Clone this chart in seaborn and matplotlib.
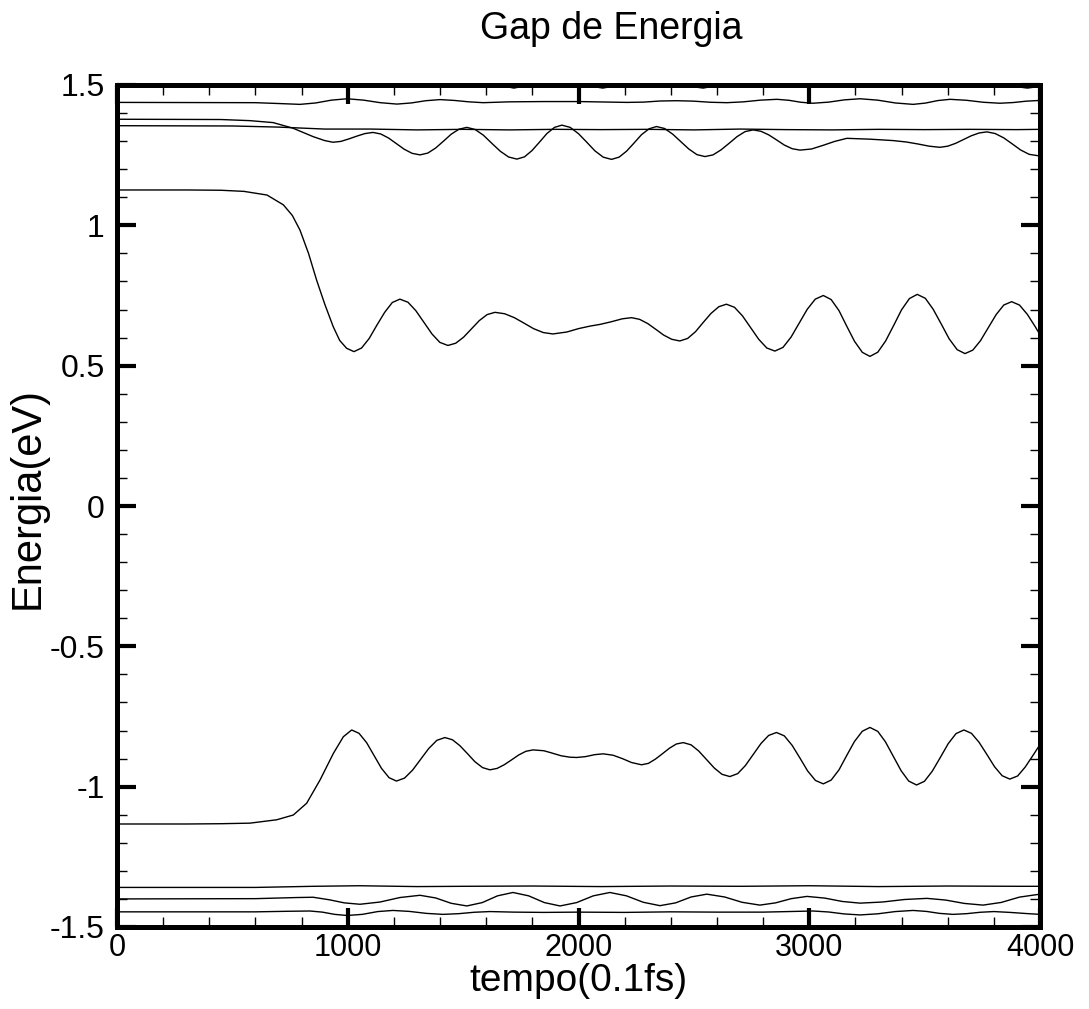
import numpy as np
import pandas as pd
import matplotlib
matplotlib.use('Agg')
import matplotlib.pyplot as plt
from matplotlib.ticker import MultipleLocator, FuncFormatter
import seaborn as sns

# -------------------------------------------------------
# DATA
# -------------------------------------------------------
# upper band, near 1.5 (mostly clipped by the frame)
t_top0 = [0, 1500, 1620, 1720, 1820, 1950, 2105, 2250, 2400, 2540, 2680, 3000, 3500, 3800, 3945, 4000]
e_top0 = [1.52, 1.515, 1.505, 1.489, 1.505, 1.51, 1.489, 1.51, 1.505, 1.489, 1.51, 1.52, 1.515, 1.505, 1.489, 1.495]

t_top1 = [0, 600, 700, 793, 861, 929, 997, 1069, 1141, 1213, 1275, 1338, 1400, 1462, 1525, 1587, 1700,
          1850, 2000, 2210, 2282, 2354, 2426, 2498, 2571, 2643, 2715, 2788, 2860, 2912, 2964, 3016, 3084,
          3152, 3220, 3297, 3373, 3450, 3503, 3557, 3610, 3682, 3754, 3826, 3884, 3942, 4000]
e_top1 = [1.438, 1.437, 1.434, 1.431, 1.436, 1.446, 1.451, 1.446, 1.437, 1.432, 1.436, 1.444, 1.448, 1.445,
          1.440, 1.437, 1.440, 1.441, 1.441, 1.438, 1.439, 1.443, 1.444, 1.4425, 1.4385, 1.437, 1.440, 1.446,
          1.449, 1.4455, 1.4385, 1.435, 1.439, 1.447, 1.451, 1.446, 1.436, 1.431, 1.4355, 1.4445, 1.449,
          1.4455, 1.4385, 1.435, 1.4375, 1.4425, 1.445]

t_top2 = [0, 450, 576, 677, 763, 850, 900, 936, 970, 1005, 1040, 1075, 1109, 1143, 1177, 1211, 1245, 1279,
          1313, 1347, 1381, 1415, 1448, 1482, 1516, 1552, 1588, 1624, 1661, 1697, 1733, 1766, 1798, 1831,
          1863, 1896, 1928, 1964, 2000, 2036, 2071, 2107, 2143, 2176, 2208, 2241, 2273, 2306, 2338, 2373,
          2408, 2443, 2478, 2513, 2548, 2583, 2618, 2653, 2687, 2722, 2757, 2791, 2825, 2859, 2892, 2926,
          2960, 3010, 3060, 3110, 3163, 3263, 3363, 3420, 3470, 3520, 3566, 3600, 3634, 3668, 3702, 3736,
          3770, 3806, 3843, 3880, 3916, 3953, 4000]
e_top2 = [1.378, 1.377, 1.373, 1.366, 1.346, 1.316, 1.302, 1.296, 1.299, 1.308, 1.318, 1.327, 1.331,
          1.3255, 1.311, 1.291, 1.271, 1.2565, 1.251, 1.2575, 1.2755, 1.300, 1.3245, 1.3425, 1.349, 1.3415,
          1.321, 1.2925, 1.264, 1.2435, 1.236, 1.244, 1.266, 1.2965, 1.327, 1.349, 1.357, 1.349, 1.3265,
          1.296, 1.2655, 1.243, 1.235, 1.243, 1.264, 1.2935, 1.323, 1.344, 1.352, 1.345, 1.325, 1.2985,
          1.272, 1.252, 1.245, 1.251, 1.269, 1.2925, 1.316, 1.334, 1.340, 1.335, 1.322, 1.304, 1.286, 1.273,
          1.268, 1.272, 1.285, 1.299, 1.310, 1.307, 1.302, 1.297, 1.290, 1.282, 1.278, 1.282, 1.292, 1.3055,
          1.319, 1.329, 1.333, 1.327, 1.3115, 1.290, 1.2685, 1.253, 1.247]

t_top3 = [0, 500, 700, 900, 1100, 1300, 1500, 1700, 1900, 2100, 2300, 2500, 2700, 2900, 3100, 3300, 3500, 3700, 3900, 4000]
e_top3 = [1.355, 1.354, 1.350, 1.343, 1.343, 1.340, 1.342, 1.340, 1.342, 1.341, 1.342, 1.340, 1.343, 1.341,
          1.340, 1.342, 1.341, 1.342, 1.341, 1.342]

# the two gap levels
t_lumo = [0, 300, 450, 550, 650, 721, 760, 793, 830, 865, 900, 937, 965, 995, 1027, 1060, 1093, 1126, 1160,
          1193, 1226, 1261, 1295, 1330, 1365, 1399, 1434, 1468, 1502, 1536, 1570, 1604, 1638, 1680, 1722,
          1764, 1805, 1847, 1889, 1950, 2000, 2050, 2093, 2140, 2190, 2230, 2265, 2300, 2335, 2369, 2404,
          2439, 2473, 2507, 2540, 2574, 2608, 2641, 2676, 2711, 2746, 2781, 2816, 2851, 2886, 2921, 2956,
          2991, 3026, 3061, 3095, 3129, 3162, 3196, 3230, 3263, 3297, 3331, 3366, 3400, 3434, 3468, 3503,
          3537, 3572, 3606, 3641, 3675, 3709, 3742, 3776, 3810, 3843, 3877, 3911, 3945, 3980, 4000]
e_lumo = [1.126, 1.126, 1.125, 1.121, 1.108, 1.073, 1.035, 0.983, 0.90, 0.805, 0.72, 0.639, 0.59, 0.562,
          0.550, 0.563, 0.597, 0.644, 0.690, 0.725, 0.737, 0.726, 0.696, 0.6545, 0.613, 0.583, 0.572, 0.580,
          0.6015, 0.631, 0.6605, 0.682, 0.690, 0.685, 0.671, 0.6515, 0.632, 0.618, 0.613, 0.620, 0.632,
          0.641, 0.647, 0.656, 0.667, 0.671, 0.665, 0.650, 0.6295, 0.609, 0.594, 0.588, 0.597, 0.621, 0.6535,
          0.686, 0.710, 0.719, 0.708, 0.677, 0.6355, 0.594, 0.563, 0.552, 0.565, 0.6015, 0.651, 0.7005, 0.737,
          0.750, 0.7355, 0.696, 0.6415, 0.587, 0.5475, 0.533, 0.548, 0.588, 0.6435, 0.699, 0.739, 0.754,
          0.740, 0.701, 0.6485, 0.596, 0.557, 0.543, 0.5555, 0.589, 0.6355, 0.682, 0.716, 0.728, 0.716,
          0.683, 0.638, 0.61]

t_homo = [0, 300, 450, 576, 692, 764, 822, 880, 938, 981, 1017, 1049, 1082, 1114, 1146, 1179, 1211, 1246,
          1281, 1316, 1351, 1386, 1421, 1454, 1486, 1519, 1551, 1584, 1616, 1647, 1678, 1710, 1741, 1772,
          1803, 1850, 1880, 1925, 1963, 1992, 2030, 2070, 2107, 2150, 2190, 2230, 2273, 2303, 2333, 2364,
          2394, 2424, 2454, 2488, 2521, 2555, 2589, 2622, 2656, 2690, 2723, 2757, 2791, 2824, 2858, 2892,
          2926, 2960, 2993, 3027, 3061, 3095, 3129, 3162, 3196, 3230, 3263, 3297, 3330, 3364, 3398, 3431,
          3465, 3499, 3533, 3568, 3602, 3636, 3670, 3703, 3736, 3770, 3803, 3836, 3869, 3903, 3936, 3970, 4000]
e_homo = [-1.133, -1.133, -1.132, -1.130, -1.118, -1.101, -1.059, -0.976, -0.881, -0.822, -0.798, -0.810,
          -0.8435, -0.889, -0.9345, -0.968, -0.980, -0.9695, -0.941, -0.9025, -0.864, -0.835, -0.825, -0.833,
          -0.854, -0.8825, -0.911, -0.932, -0.940, -0.935, -0.922, -0.9045, -0.887, -0.874, -0.869, -0.872,
          -0.879, -0.890, -0.895, -0.896, -0.893, -0.886, -0.883, -0.888, -0.900, -0.914, -0.922, -0.917,
          -0.902, -0.8825, -0.863, -0.848, -0.843, -0.851, -0.873, -0.9035, -0.934, -0.956, -0.964, -0.9535,
          -0.925, -0.8855, -0.846, -0.8175, -0.807, -0.819, -0.853, -0.8985, -0.944, -0.978, -0.990, -0.9765,
          -0.940, -0.8895, -0.839, -0.8025, -0.789, -0.803, -0.840, -0.8915, -0.943, -0.980, -0.994, -0.981,
          -0.945, -0.896, -0.847, -0.811, -0.798, -0.810, -0.842, -0.8855, -0.929, -0.961, -0.973, -0.962,
          -0.930, -0.888, -0.85]

# lower band
t_bot1 = [0, 600, 850, 1050, 1300, 1500, 1800, 2100, 2400, 2700, 3000, 3300, 3600, 3900, 4000]
e_bot1 = [-1.359, -1.359, -1.355, -1.353, -1.356, -1.355, -1.354, -1.356, -1.354, -1.355, -1.353, -1.356,
          -1.354, -1.355, -1.355]

t_bot2 = [0, 600, 780, 850, 920, 985, 1053, 1140, 1226, 1313, 1381, 1448, 1516, 1583, 1649, 1716, 1784,
          1852, 1920, 1992, 2064, 2136, 2208, 2281, 2353, 2421, 2488, 2556, 2633, 2709, 2786, 2854, 2922,
          2990, 3067, 3143, 3220, 3317, 3413, 3510, 3591, 3672, 3753, 3832, 3911, 4000]
e_bot2 = [-1.400, -1.399, -1.395, -1.394, -1.403, -1.414, -1.419, -1.411, -1.395, -1.387, -1.3965, -1.4155,
          -1.425, -1.413, -1.389, -1.377, -1.389, -1.413, -1.425, -1.413, -1.389, -1.377, -1.389, -1.412,
          -1.424, -1.414, -1.393, -1.383, -1.393, -1.412, -1.422, -1.414, -1.399, -1.391, -1.397, -1.409,
          -1.415, -1.411, -1.402, -1.398, -1.404, -1.416, -1.422, -1.4125, -1.3935, -1.383]

t_bot3 = [0, 600, 740, 836, 890, 943, 997, 1063, 1130, 1196, 1268, 1341, 1413, 1481, 1548, 1616, 1720,
          1850, 2000, 2200, 2400, 2600, 2800, 2910, 3016, 3084, 3152, 3220, 3297, 3373, 3450, 3508, 3565,
          3623, 3682, 3741, 3800, 3870, 3940, 4000]
e_bot3 = [-1.446, -1.446, -1.444, -1.443, -1.447, -1.455, -1.459, -1.455, -1.445, -1.441, -1.4445, -1.4515,
          -1.455, -1.4525, -1.4475, -1.445, -1.447, -1.448, -1.447, -1.448, -1.446, -1.447, -1.447, -1.445,
          -1.443, -1.4465, -1.4535, -1.457, -1.453, -1.445, -1.441, -1.4445, -1.4515, -1.455, -1.4525,
          -1.4475, -1.445, -1.448, -1.452, -1.455]

x_ticks = [0, 1000, 2000, 3000, 4000]
y_ticks = [-1.5, -1, -0.5, 0, 0.5, 1, 1.5]

curves = [
    (t_top0, e_top0), (t_top1, e_top1), (t_top2, e_top2), (t_top3, e_top3),
    (t_lumo, e_lumo), (t_homo, e_homo),
    (t_bot1, e_bot1), (t_bot2, e_bot2), (t_bot3, e_bot3),
]

# -------------------------------------------------------
# PLOT
# -------------------------------------------------------
sns.set_style('ticks', {'text.color': 'black', 'axes.labelcolor': 'black',
                        'xtick.color': 'black', 'ytick.color': 'black',
                        'axes.edgecolor': 'black'})
plt.rcParams['font.family'] = ['Liberation Sans', 'DejaVu Sans']

fig = plt.figure(figsize=(10.89, 10.09), dpi=100)
ax = fig.add_axes([117 / 1089, 1 - 927 / 1009, 923 / 1089, 842 / 1009])

for t, e in curves:
    df = pd.DataFrame({'tempo': t, 'energia': e})
    sns.lineplot(data=df, x='tempo', y='energia', ax=ax, color='black',
                 linewidth=1.0, sort=False, estimator=None)

ax.set_xlim(0, 4000)
ax.set_ylim(-1.5, 1.5)

ax.set_xticks(x_ticks)
ax.set_yticks(y_ticks)
ax.xaxis.set_minor_locator(MultipleLocator(200))
ax.yaxis.set_minor_locator(MultipleLocator(0.1))
ax.xaxis.set_major_formatter(FuncFormatter(lambda v, p: f'{v:g}'))
ax.yaxis.set_major_formatter(FuncFormatter(lambda v, p: f'{v:g}'))

ax.tick_params(which='major', direction='in', length=14, width=3,
               top=True, right=True, color='black', labelcolor='black')
ax.tick_params(axis='x', which='major', pad=4, labelsize=22)
ax.tick_params(axis='y', which='major', pad=9, labelsize=23)
ax.tick_params(which='minor', direction='in', length=7, width=1,
               top=True, right=True, color='black')

for s in ax.spines.values():
    s.set_linewidth(3.6)
    s.set_color('black')
    s.set_visible(True)

ax.set_xlabel('tempo(0.1fs)', fontsize=28, labelpad=0, color='black')
ax.set_ylabel('Energia(eV)', fontsize=30, color='black')
ax.yaxis.set_label_coords(-0.075, 0.51)
fig.text(611 / 1089, 1 - 39 / 1009, 'Gap de Energia', fontsize=27,
         ha='center', va='baseline', color='black')

fig.savefig('out.png', dpi=100)
